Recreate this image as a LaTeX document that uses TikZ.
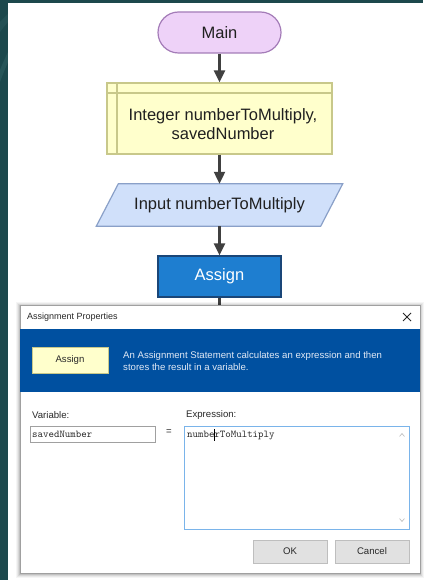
\documentclass[tikz,border=0pt]{standalone}
\usepackage{fontspec}
\setmainfont{Liberation Sans}
\usetikzlibrary{arrows.meta}

\definecolor{deskbg}{RGB}{28,72,76}
\definecolor{deskhi}{RGB}{60,110,112}
\definecolor{termfill}{RGB}{238,210,248}
\definecolor{termline}{RGB}{164,124,184}
\definecolor{declfill}{RGB}{255,255,204}
\definecolor{declline}{RGB}{200,200,138}
\definecolor{inpfill}{RGB}{208,224,250}
\definecolor{inpline}{RGB}{138,160,200}
\definecolor{asgfill}{RGB}{30,126,208}
\definecolor{asgline}{RGB}{26,70,120}
\definecolor{flowink}{RGB}{32,32,32}
\definecolor{arrowink}{RGB}{64,64,64}
\definecolor{hdrblue}{RGB}{0,80,160}
\definecolor{hdrtext}{RGB}{225,233,245}
\definecolor{btnfill}{RGB}{225,225,225}
\definecolor{btnline}{RGB}{190,190,190}
\definecolor{boxline}{RGB}{160,160,160}
\definecolor{focusline}{RGB}{122,180,234}
\definecolor{uitext}{RGB}{40,40,40}

\tikzset{
  flowtext/.style={font=\fontsize{16.5}{19.5}\selectfont, text=flowink, align=center, inner sep=0pt},
  terminal/.style={flowtext, draw=termline, fill=termfill, line width=1.2pt,
    rounded corners=20.5pt, minimum width=123pt, minimum height=41pt},
  declbox/.style={draw=declline, fill=declfill, line width=1.2pt,
    minimum width=225pt, minimum height=71pt, inner sep=0pt},
  inpbox/.style={flowtext, minimum width=224pt, minimum height=42pt},
  asgbox/.style={flowtext, text=white, draw=asgline, fill=asgfill, line width=1.2pt,
    minimum width=123pt, minimum height=41pt},
  flowarrow/.style={draw=arrowink, line width=2.2pt,
    -{Triangle[length=12pt,width=11pt]}},
  flowline/.style={draw=arrowink, line width=2.2pt},
  uifont/.style={font=\fontsize{9.6}{12}\selectfont, text=uitext, inner sep=0pt},
  titlefont/.style={font=\fontsize{9}{11}\selectfont, text=uitext, inner sep=0pt},
  monotext/.style={font=\ttfamily\fontsize{10.4}{12}\selectfont, text=uitext, inner sep=0pt},
  uibutton/.style={uifont, draw=btnline, fill=btnfill, line width=0.8pt,
    minimum width=74pt, minimum height=23pt},
}

\begin{document}
\begin{tikzpicture}[x=1pt, y=-1pt]
  \useasboundingbox (0,0) rectangle (423,580);

  % desktop behind the editor window
  \fill[deskbg] (0,0) rectangle (423,580);
  \fill[deskhi, opacity=0.35] (0,70) .. controls (4,60) and (8,52) .. (10,48)
    -- (10,58) .. controls (6,66) and (3,74) .. (0,82) -- cycle;
  \fill[deskhi, opacity=0.25] (0,22) .. controls (4,18) and (8,14) .. (10,12)
    -- (10,20) .. controls (6,24) and (3,28) .. (0,32) -- cycle;

  % editor canvas
  \fill[white] (8,3) rectangle (423,580);

  % flowchart
  \node[terminal] (main) at (219.5,32.5) {Main};
  \node[declbox] (decl) at (219.5,118.5) {};
  \draw[declline, line width=1.2pt] (107,93) -- (332,93);
  \draw[declline, line width=1.2pt] (117,83) -- (117,154);
  \node[flowtext] (decltext) at (223,124) {Integer numberToMultiply,\\savedNumber};
  \node[inpbox] (inp) at (219.5,205) {};
  \draw[inpline, fill=inpfill, line width=1.2pt]
    ([xshift=11pt]inp.north west) -- ([xshift=11pt]inp.north east)
    -- ([xshift=-11pt]inp.south east) -- ([xshift=-11pt]inp.south west) -- cycle;
  \node[flowtext] at (inp.center) {Input numberToMultiply};
  \node[asgbox] (asg) at (219.5,276.5) {Assign};

  \coordinate (below) at (219.5,330);
  \draw[flowarrow] (main) -- (decl);
  \draw[flowarrow] (decl) -- (inp);
  \draw[flowarrow] (inp) -- (asg);
  \draw[flowline] (asg) -- (below);

  % dialog shadow
  \foreach \d/\o in {4/0.04,3/0.05,2/0.07,1/0.10}
    \fill[black, opacity=\o] (20-\d,305-\d+1) rectangle (420+\d,573+\d+1);

  % dialog window
  \node[draw=boxline, fill=white, line width=0.8pt, minimum width=400pt,
        minimum height=268pt, inner sep=0pt] (dlg) at (220,439) {};
  \node[titlefont, anchor=west] (title) at (27,317) {Assignment Properties};
  \coordinate (xc) at (407,317);
  \draw[uitext, line width=0.8pt] ([shift={(-4,-4)}]xc) -- ([shift={(4,4)}]xc)
    ([shift={(-4,4)}]xc) -- ([shift={(4,-4)}]xc);

  % header band
  \fill[hdrblue] (20.4,329) rectangle (419.6,392);
  \node[uifont, draw=declline, fill=declfill, line width=0.8pt,
        minimum width=76pt, minimum height=26pt] (badge) at (70,360) {Assign};
  \node[uifont, text=hdrtext, anchor=west, align=left] (desc) at (123,361)
    {An Assignment Statement calculates an expression and then\\stores the result in a variable.};

  % fields
  \node[uifont, anchor=west] (varlbl) at (32,415) {Variable:};
  \node[uifont, anchor=west] (exprlbl) at (186,415) {Expression:};
  \node[draw=boxline, line width=0.8pt, minimum width=125pt, minimum height=16pt,
        inner sep=0pt] (varbox) at (92.5,434) {};
  \node[monotext, anchor=west] at (32,434.5) {savedNumber};
  \node[uifont] (eq) at (169,432.5) {=};
  \node[draw=focusline, line width=0.9pt, minimum width=225pt, minimum height=103pt,
        inner sep=0pt] (exprbox) at (296.5,477.5) {};
  \node[monotext, anchor=west] at (187,435.5) {numberToMultiply};
  \draw[black, line width=0.6pt] (214,429) -- (214,441);
  \draw[boxline!70, line width=0.6pt] (399.5,436.5) -- (402,433.5) -- (404.5,436.5);
  \draw[boxline!70, line width=0.6pt] (399.5,518.5) -- (402,521.5) -- (404.5,518.5);

  % buttons
  \node[uibutton] (ok) at (290,551.5) {OK};
  \node[uibutton] (cancel) at (372,551.5) {Cancel};
\end{tikzpicture}
\end{document}
